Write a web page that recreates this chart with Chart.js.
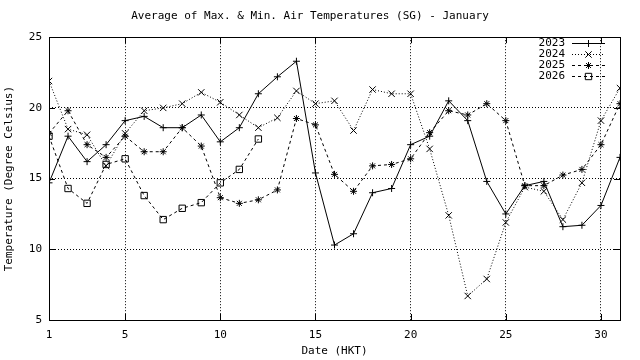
<!DOCTYPE html>
<html>
<head>
<meta charset="utf-8">
<script src="https://cdn.jsdelivr.net/npm/chart.js@4/dist/chart.umd.min.js"></script>
<style>
  html, body { margin: 0; padding: 0; background: #fff; }
  canvas { display: block; }
</style>
</head>
<body>
<canvas id="chart" width="640" height="360"></canvas>
<script>
// values, one entry per day of January
let days = [1, 2, 3, 4, 5, 6, 7, 8, 9, 10, 11, 12, 13, 14, 15, 16, 17, 18, 19, 20, 21, 22, 23, 24, 25, 26, 27, 28, 29, 30, 31];
let t2023 = [14.7, 18.0, 16.2, 17.4, 19.1, 19.4, 18.6, 18.6, 19.5, 17.6, 18.6, 21.0, 22.2, 23.3, 15.4, 10.3, 11.1, 14.0, 14.3, 17.4, 18.0, 20.5, 19.1, 14.8, 12.5, 14.5, 14.8, 11.6, 11.7, 13.1, 16.5];
let t2024 = [21.9, 18.5, 18.1, 15.9, 18.2, 19.8, 20.0, 20.3, 21.1, 20.4, 19.5, 18.6, 19.3, 21.2, 20.3, 20.5, 18.4, 21.3, 21.0, 21.0, 17.1, 12.4, 6.7, 7.9, 11.9, 14.4, 14.1, 12.1, 14.7, 19.1, 21.4];
let t2025 = [18.2, 19.8, 17.4, 16.5, 18.0, 16.9, 16.9, 18.6, 17.3, 13.65, 13.25, 13.5, 14.2, 19.25, 18.8, 15.3, 14.1, 15.9, 16.0, 16.4, 18.25, 19.8, 19.5, 20.3, 19.1, 14.5, 14.5, 15.25, 15.65, 17.4, 20.3];
let t2026 = [18.0, 14.3, 13.25, 16.0, 16.4, 13.8, 12.1, 12.9, 13.3, 14.7, 15.65, 17.8];
let xTicks = [1, 5, 10, 15, 20, 25, 30];
let yTicks = [5, 10, 15, 20, 25];

const FONT = { family: 'DejaVu Sans Mono', size: 11, weight: 'normal' };

function pts(vals) {
    return vals.map((v, i) => ({ x: days[i], y: v }));
}

let series = [
    { label: '2023', data: t2023, dash: [], style: 'cross', r: 3.5 },
    { label: '2024', data: t2024, dash: [1, 2], style: 'crossRot', r: 4.5 },
    { label: '2025', data: t2025, dash: [3, 3], style: 'star', r: 3.5 },
    { label: '2026', data: t2026, dash: [3, 3], style: 'rect', r: 4.5 }
];

// frame, inner tick marks on all four sides, and the key in the corner
const gnuFrame = {
    id: 'gnuFrame',
    afterDatasetsDraw(chart) {
        const ctx = chart.ctx;
        const a = chart.chartArea;
        const xs = chart.scales.x, ys = chart.scales.y;
        ctx.save();
        ctx.strokeStyle = '#000';
        ctx.lineWidth = 1;
        ctx.setLineDash([]);
        ctx.strokeRect(Math.round(a.left) + 0.5, Math.round(a.top) + 0.5,
            Math.round(a.right - a.left), Math.round(a.bottom - a.top));
        ctx.beginPath();
        xTicks.forEach(v => {
            const px = Math.round(xs.getPixelForValue(v)) + 0.5;
            ctx.moveTo(px, a.bottom); ctx.lineTo(px, a.bottom - 6);
            ctx.moveTo(px, a.top); ctx.lineTo(px, a.top + 6);
        });
        yTicks.forEach(v => {
            const py = Math.round(ys.getPixelForValue(v)) + 0.5;
            ctx.moveTo(a.left, py); ctx.lineTo(a.left + 6, py);
            ctx.moveTo(a.right, py); ctx.lineTo(a.right - 6, py);
        });
        ctx.stroke();

        // key
        ctx.font = FONT.size + 'px ' + FONT.family;
        ctx.textAlign = 'right';
        ctx.textBaseline = 'middle';
        series.forEach((s, i) => {
            const y = Math.round(a.top + 6 + i * 10.8) + 0.5;
            ctx.fillStyle = '#000';
            ctx.fillText(s.label, a.right - 55, y);
            ctx.setLineDash(s.dash);
            ctx.beginPath();
            ctx.moveTo(a.right - 48, y);
            ctx.lineTo(a.right - 15, y);
            ctx.stroke();
            ctx.setLineDash([]);
            ctx.fillStyle = 'rgba(0,0,0,0)';
            Chart.helpers.drawPoint(ctx, { pointStyle: s.style, radius: s.r, borderWidth: 1 }, a.right - 31.5, y);
        });
        ctx.restore();
    }
};

new Chart(document.getElementById('chart'), {
    type: 'line',
    data: {
        datasets: series.map(s => ({
            label: s.label,
            data: pts(s.data),
            borderColor: '#000',
            borderWidth: 1,
            borderDash: s.dash,
            pointStyle: s.style,
            pointRadius: s.r,
            pointBorderColor: '#000',
            pointBackgroundColor: 'rgba(0,0,0,0)',
            pointBorderWidth: 1,
            tension: 0,
            fill: false
        }))
    },
    options: {
        responsive: false,
        animation: false,
        devicePixelRatio: 1,
        layout: { padding: { left: 0, right: 20, top: 0, bottom: 0 } },
        plugins: {
            legend: { display: false },
            tooltip: { enabled: false },
            title: {
                display: true,
                text: 'Average of Max. & Min. Air Temperatures (SG) - January',
                color: '#000',
                font: FONT,
                padding: { top: 10, bottom: 14 }
            }
        },
        scales: {
            x: {
                type: 'linear',
                min: 1,
                max: 31,
                afterBuildTicks: s => { s.ticks = xTicks.map(v => ({ value: v })); },
                afterFit: s => { s.height = 40; },
                ticks: { color: '#000', font: FONT, padding: 9, maxRotation: 0, autoSkip: false },
                grid: { color: '#000', lineWidth: 1, drawTicks: false },
                border: { display: false, dash: [1, 2] },
                title: { display: true, text: 'Date (HKT)', color: '#000', font: FONT, padding: { top: 2, bottom: 2 } }
            },
            y: {
                min: 5,
                max: 25,
                afterBuildTicks: s => { s.ticks = yTicks.map(v => ({ value: v })); },
                afterFit: s => { s.width = 49; },
                ticks: { color: '#000', font: FONT, padding: 7 },
                grid: { color: '#000', lineWidth: 1, drawTicks: false },
                border: { display: false, dash: [1, 2] },
                title: { display: true, text: 'Temperature (Degree Celsius)', color: '#000', font: FONT, padding: { top: 3, bottom: 3 } }
            }
        }
    },
    plugins: [gnuFrame]
});
</script>
</body>
</html>
